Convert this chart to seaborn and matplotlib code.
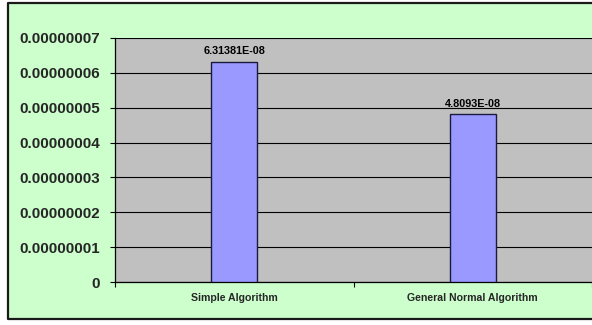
import matplotlib
matplotlib.use("Agg")
import matplotlib.pyplot as plt
from matplotlib.lines import Line2D
from matplotlib.patches import Rectangle
from matplotlib.ticker import FixedLocator, FuncFormatter
import numpy as np
import pandas as pd
import seaborn as sns

# Chart data
categories = ["Simple Algorithm", "General Normal Algorithm"]
values = [6.31381e-08, 4.8093e-08]
y_ticks = [0, 1e-08, 2e-08, 3e-08, 4e-08, 5e-08, 6e-08, 7e-08]

sns.set_style("white")
plt.rcParams["font.family"] = ["Liberation Sans", "DejaVu Sans"]

W, H = 592, 325
fig = plt.figure(figsize=(W / 100, H / 100), dpi=100, facecolor="white")

# Chart-area background; its frame runs off the right edge
x0, y0, y1 = 7.5 / W, 6.5 / H, (H - 2.5) / H
bg = Rectangle((x0, y0), 1.2, y1 - y0, transform=fig.transFigure,
               facecolor="#CCFFCC", edgecolor="none", zorder=-10)
fig.patches.append(bg)
edge = Line2D([1.2, x0, x0, 1.2], [y1, y1, y0, y0], transform=fig.transFigure,
              color="#1a1a1a", linewidth=1.6, zorder=-9)
fig.lines.append(edge)

ax = fig.add_axes([115 / W, 43 / H, 477 / W, 244 / H])
ax.set_zorder(1)
ax.set_facecolor("#C0C0C0")

df = pd.DataFrame({"category": categories, "value": values})
sns.barplot(data=df, x="category", y="value", color="#9999FF",
            edgecolor="#1a1a40", linewidth=1.0, width=0.193,
            saturation=1, ax=ax, zorder=3)


def excel_general(v):
    mant, exp = f"{v:.5E}".split("E")
    mant = mant.rstrip("0").rstrip(".")
    return f"{mant}E{exp}"


ax.bar_label(ax.containers[0], labels=[excel_general(v) for v in values],
             padding=4, fontsize=7.8, fontweight="bold", color="black")

# Y axis
ax.set_ylim(0, 7e-08)
ax.yaxis.set_major_locator(FixedLocator(y_ticks))
ax.yaxis.set_major_formatter(FuncFormatter(
    lambda v, p: "0" if abs(v) < 1e-12 else f"{v:.8f}"))
ax.grid(axis="y", color="black", linewidth=0.8, zorder=1)
ax.set_axisbelow(True)
ax.tick_params(axis="y", which="major", direction="out", length=3.6,
               width=0.8, color="black", pad=7, labelsize=10.9,
               left=True)
for lbl in ax.get_yticklabels():
    lbl.set_fontweight("bold")

# X axis: ticks at category boundaries, labels at centres
ax.set_xlim(-0.5, 1.5)
ax.xaxis.set_major_locator(FixedLocator([-0.5, 0.5, 1.5]))
ax.xaxis.set_major_formatter(FuncFormatter(lambda v, p: ""))
ax.xaxis.set_minor_locator(FixedLocator([0, 1]))
ax.xaxis.set_minor_formatter(FuncFormatter(lambda v, p: categories[int(round(v))]))
ax.tick_params(axis="x", which="major", direction="out", length=3.6,
               width=0.8, color="black", bottom=True)
ax.tick_params(axis="x", which="minor", length=0, pad=8, labelsize=7.6)
for lbl in ax.get_xticklabels(minor=True):
    lbl.set_fontweight("bold")
ax.set_xlabel("")
ax.set_ylabel("")

for side in ["top", "right"]:
    ax.spines[side].set_visible(False)
for side in ["left", "bottom"]:
    ax.spines[side].set_color("black")
    ax.spines[side].set_linewidth(0.9)

fig.savefig("out.png", dpi=100, facecolor="white")
